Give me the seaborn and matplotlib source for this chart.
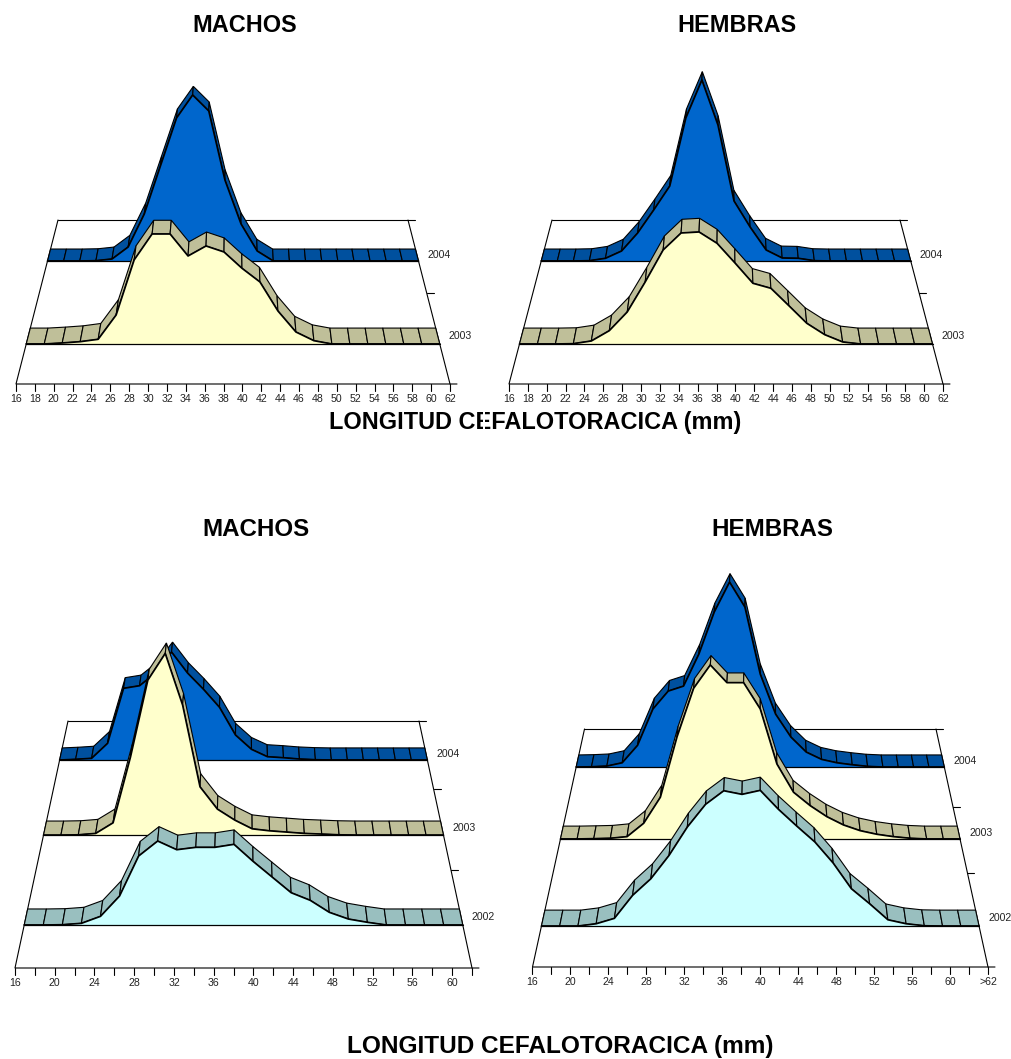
import numpy as np
import pandas as pd
import seaborn as sns
import matplotlib.pyplot as plt

# No value axis in the original, heights are read as relative units
machos_top_2004 = [0, 0, 0, 0.3, 2, 14, 47, 95, 143, 166, 150, 81, 37, 10, 0, 0, 0, 0, 0, 0, 0, 0, 0, 0]
machos_top_2003 = [0, 0, 1, 2.3, 4.7, 29, 84, 110, 110, 88, 98, 92, 75.7, 62, 33, 12, 3.3, 0, 0, 0, 0, 0, 0, 0]
hembras_top_2004 = [0, 0, 0, 0.3, 2.7, 10, 28, 51, 75, 143, 181, 136, 60, 34, 11, 3, 2.7, 0.3, 0, 0, 0, 0, 0, 0]
hembras_top_2003 = [0, 0, 0, 0.3, 3, 13.3, 32, 62, 94, 111, 112, 100.7, 81, 60.7, 55.7, 38.3, 20.7, 9.3, 2, 0, 0, 0, 0, 0]

machos_low_2004 = [0, 0.7, 1.7, 16.7, 71.7, 74.3, 87, 108, 87, 70.7, 52.7, 25, 10.7, 3.3, 2.3, 1, 0.3, 0, 0, 0, 0, 0, 0, 0]
machos_low_2003 = [0, 0, 0.3, 1.7, 12.3, 78, 155, 181.7, 130, 48.3, 26, 15, 6.3, 4.3, 3, 1.7, 1, 0.3, 0, 0, 0, 0, 0, 0]
machos_low_2002 = [0, 0, 0.3, 1.7, 8.7, 29, 69, 84, 75.3, 77.7, 77.7, 80.7, 63.7, 48, 32.3, 24.7, 12.7, 6, 2.7, 0, 0, 0, 0, 0]

hembras_low_2004 = [0, 0.3, 1, 4.3, 21.7, 58, 76, 81, 113, 155, 185, 160, 93, 53, 30, 15, 7.7, 4.3, 2.3, 0.7, 0, 0, 0, 0, 0]
hembras_low_2003 = [0, 0, 0.3, 0.7, 2.3, 15.7, 41.7, 102, 150.7, 174, 156.3, 156.3, 130, 75, 46.7, 33.3, 22.3, 14, 8.3, 4.7, 2.3, 0.7, 0, 0, 0]
hembras_low_2002 = [0, 0, 0, 2.3, 7.7, 30.7, 47.3, 70.7, 99, 121.7, 135.3, 131.7, 135.7, 116.7, 100, 84, 63, 37.3, 22.3, 6.3, 2.3, 0.3, 0, 0, 0]

sizes_top = [str(s) for s in range(16, 64, 2)]
sizes_low = [str(s) if s % 4 == 0 else "" for s in range(16, 64, 2)]
sizes_low_h = [str(s) if s % 4 == 0 else "" for s in range(16, 64, 2)] + [">62"]

fill_colors = {"2004": "#0066CC", "2003": "#FFFFCC", "2002": "#CCFFFF"}
side_colors = {"2004": "#00509E", "2003": "#BFBF99", "2002": "#99BFBF"}

# floor: left/right at the front, inset at the back, y front, y back
panels = [
    dict(title="MACHOS", tx=244.5, ty=25, ts=16.9, left=16, right=450, inset=42, yf=384, yb=220,
         series=[("2004", machos_top_2004), ("2003", machos_top_2003)],
         rows=[(0.75, 0.823), (0.244, 0.341)], depth_ticks=[0.555], labels=sizes_top),
    dict(title="HEMBRAS", tx=737, ty=25, ts=16.9, left=509, right=943, inset=43, yf=384, yb=220,
         series=[("2004", hembras_top_2004), ("2003", hembras_top_2003)],
         rows=[(0.75, 0.823), (0.244, 0.341)], depth_ticks=[0.555], labels=sizes_top),
    dict(title="MACHOS", tx=256, ty=529, ts=17.4, left=15, right=472, inset=53, yf=968, yb=721,
         series=[("2004", machos_low_2004), ("2003", machos_low_2003), ("2002", machos_low_2002)],
         rows=[(0.842, 0.891), (0.538, 0.595), (0.174, 0.239)], depth_ticks=[0.725, 0.397], labels=sizes_low),
    dict(title="HEMBRAS", tx=772, ty=529, ts=17.4, left=532.5, right=988, inset=52, yf=967, yb=729,
         series=[("2004", hembras_low_2004), ("2003", hembras_low_2003), ("2002", hembras_low_2002)],
         rows=[(0.84, 0.891), (0.538, 0.592), (0.172, 0.239)], depth_ticks=[0.672, 0.395], labels=sizes_low_h),
]

sns.set_theme(style="white")
plt.rcParams["font.family"] = ["Liberation Sans", "DejaVu Sans"]

fig = plt.figure(figsize=(10.12, 10.59), dpi=100)
ax = fig.add_axes([0, 0, 1, 1])
LW = 0.8


def project(p, u, d, h=0.0):
    xl = p["left"] + p["inset"] * d
    xr = p["right"] - p["inset"] * d
    y = p["yf"] + (p["yb"] - p["yf"]) * d
    return xl + u * (xr - xl), y - h


def line(xs, ys, z, lw=LW, color="black"):
    df = pd.DataFrame({"x": xs, "y": ys})
    sns.lineplot(data=df, x="x", y="y", sort=False, estimator=None, color=color,
                 linewidth=lw, zorder=z, ax=ax, legend=False)


for p in panels:
    # floor outline and axis ticks
    x0, y0 = project(p, 0, 0)
    x1, y1 = project(p, 1, 0)
    xb0, yb0 = project(p, 0, 1)
    xb1, yb1 = project(p, 1, 1)
    line([xb0, x0, x1 + 7], [yb0, y0, y1], 1)
    line([xb0, xb1 + 7], [yb0, yb1], 1)
    line([xb1, x1], [yb1, y1], 1)
    for d in p["depth_ticks"]:
        tx, ty = project(p, 1, d)
        line([tx, tx + 7], [ty, ty], 1)
    n = len(p["series"][0][1])
    for i, lab in enumerate(p["labels"]):
        tx, ty = project(p, i / (n - 1), 0)
        line([tx, tx], [ty, ty + 7], 1)
        if lab:
            ax.text(tx, ty + 15, lab, ha="center", va="center", fontsize=7.6, color="#222222")

    # rows from back to front
    z = 2
    for (year, vals), (df, db) in zip(p["series"], p["rows"]):
        vals = np.array(vals)
        us = np.arange(n) / (n - 1)
        fx, fy = project(p, us, df, vals)
        bx, by = project(p, us, db, vals * 0.98)
        for i in range(n - 1):
            ax.fill([fx[i], fx[i + 1], bx[i + 1], bx[i]], [fy[i], fy[i + 1], by[i + 1], by[i]],
                    facecolor=side_colors[year], edgecolor="black", linewidth=LW, zorder=z)
        lx, ly = project(p, us, df, np.zeros(n))
        ax.fill(np.r_[fx, lx[::-1]], np.r_[fy, ly[::-1]], facecolor=fill_colors[year],
                edgecolor="none", zorder=z + 0.5)
        line(fx, fy, z + 0.6, lw=1.25)
        line([lx[0], lx[-1]], [ly[0], ly[0]], z + 0.6, lw=0.9)
        rx, ry = project(p, 1, df)
        _, ry2 = project(p, 1, db)
        ax.text(rx + 9, (ry + ry2) / 2, year, ha="left", va="center", fontsize=7.6, color="#222222", zorder=30)
        z += 1

    ax.text(p["tx"], p["ty"], p["title"], ha="center", va="center", fontsize=p["ts"], fontweight="bold", color="black")

ax.text(535, 423, "LONGITUD CEFALOTORACICA (mm)", ha="center", va="center", fontsize=16.9, fontweight="bold", color="black")
ax.text(560.5, 1047, "LONGITUD CEFALOTORACICA (mm)", ha="center", va="center", fontsize=17.6, fontweight="bold", color="black")

# the two overlapping labels of the original leave a slit through the E
ax.fill([483.5, 485.5, 485.5, 483.5], [412, 412, 434, 434], facecolor="white", edgecolor="none", zorder=40)

ax.set_xlim(0, 1012)
ax.set_ylim(1059, 0)
ax.axis("off")
fig.savefig("out.png", dpi=100, facecolor="white")
